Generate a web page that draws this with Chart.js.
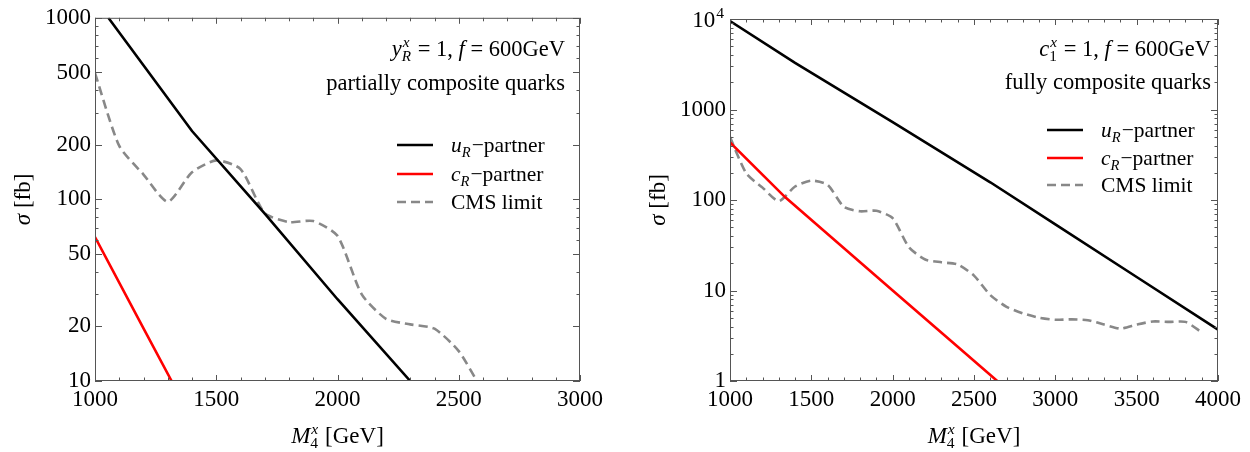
<!DOCTYPE html>
<html>
<head>
<meta charset="utf-8">
<script src="https://cdn.jsdelivr.net/npm/chart.js@4.4.0/dist/chart.umd.min.js"></script>
<style>
  body { margin: 0; background: #fff; }
  .panel { position: absolute; top: 0; width: 625px; height: 452px; }
</style>
</head>
<body>
<div class="panel" style="left:0"><canvas id="left"></canvas></div>
<div class="panel" style="left:625px"><canvas id="right"></canvas></div>
<script>
// CMS limit (same on both panels)
const cmsMass = [1000, 1100, 1200, 1300, 1400, 1500, 1600, 1700, 1800, 1900, 2000, 2100, 2200, 2300, 2400, 2500,
  2600, 2700, 2800, 2900, 3000, 3100, 3200, 3300, 3400, 3500, 3600, 3700, 3800, 3900];
const cmsLimit = [495, 197, 137, 97, 141, 164, 147, 84, 75, 76, 63, 30, 22, 20.5, 19.4, 14.6,
  8.9, 6.6, 5.6, 5.0, 4.75, 4.8, 4.7, 4.2, 3.8, 4.2, 4.55, 4.5, 4.5, 3.45];

// partially composite quarks (left)
const uLeftMass = [1055, 1400, 1700, 2000, 2300];
const uLeftXsec = [1000, 238, 83.5, 28.2, 10];
const cLeftMass = [1000, 1200, 1316];
const cLeftXsec = [62, 19.5, 10];

// fully composite quarks (right)
const uRightMass = [1000, 1400, 2000, 2600, 3000, 3500, 4000];
const uRightXsec = [9500, 3270, 724, 157, 53.7, 14.1, 3.7];
const cRightMass = [1000, 1340, 1600, 2000, 2400, 2643];
const cRightXsec = [433, 107, 42, 10, 2.39, 1];

// tick labels
const leftXTicks = [1000, 1500, 2000, 2500, 3000];
const rightXTicks = [1000, 1500, 2000, 2500, 3000, 3500, 4000];
const leftYTicks = [10, 20, 50, 100, 200, 500, 1000];
const rightYTicks = [1, 10, 100, 1000, 10000];

const FONT = '"Liberation Serif", "Times New Roman", serif';
const FRAME = '#555';
const TICK_SIZE = 23;

function pts(xs, ys) {
  return xs.map((x, i) => ({ x: x, y: ys[i] }));
}

function fontOf(size, it) {
  return (it ? 'italic ' : '') + size + 'px ' + FONT;
}

// width of one piece of rich text (plain run or stacked sub/sup)
function partWidth(ctx, p, size) {
  if (p.t !== undefined) {
    ctx.font = fontOf(size, p.it);
    return ctx.measureText(p.t).width;
  }
  const s = size * 0.68;
  let w = 0;
  if (p.sup) { ctx.font = fontOf(s, p.supIt); w = Math.max(w, ctx.measureText(p.sup).width + 1); }
  if (p.sub) { ctx.font = fontOf(s, p.subIt); w = Math.max(w, ctx.measureText(p.sub).width); }
  return w + 1;
}

function drawRich(ctx, parts, x, y, size, align) {
  const ws = parts.map(p => partWidth(ctx, p, size));
  const total = ws.reduce((a, b) => a + b, 0);
  let cx = align === 'right' ? x - total : align === 'center' ? x - total / 2 : x;
  ctx.textAlign = 'left';
  ctx.textBaseline = 'alphabetic';
  ctx.fillStyle = '#000';
  parts.forEach((p, i) => {
    if (p.t !== undefined) {
      ctx.font = fontOf(size, p.it);
      ctx.fillText(p.t, cx, y);
    } else {
      const s = size * 0.68;
      if (p.sup) { ctx.font = fontOf(s, p.supIt); ctx.fillText(p.sup, cx + 1, y - size * 0.38); }
      if (p.sub) { ctx.font = fontOf(s, p.subIt); ctx.fillText(p.sub, cx, y + size * 0.22); }
    }
    cx += ws[i];
  });
}

const uStyle = { borderColor: '#000', borderWidth: 2.6 };
const cStyle = { borderColor: '#ff0000', borderWidth: 2.6 };
const cmsStyle = { borderColor: '#888', borderWidth: 2.6, borderDash: [9, 5], tension: 0.22 };

const legendRows = [
  { style: uStyle, text: [{ t: 'u', it: true }, { sub: 'R', subIt: true }, { t: '\u2212partner' }] },
  { style: cStyle, text: [{ t: 'c', it: true }, { sub: 'R', subIt: true }, { t: '\u2212partner' }] },
  { style: cmsStyle, text: [{ t: 'CMS limit' }] }
];

function makeChart(cfg) {
  const decor = {
    id: 'decor',
    afterDraw(chart) {
      const ctx = chart.ctx;
      const a = chart.chartArea;
      const xs = chart.scales.x, ys = chart.scales.y;
      ctx.save();
      // frame
      ctx.strokeStyle = FRAME;
      ctx.lineWidth = 1;
      ctx.strokeRect(a.left + 0.5, a.top + 0.5, a.right - a.left - 1, a.bottom - a.top - 1);
      // x ticks, bottom and top, pointing inward
      ctx.beginPath();
      for (let v = cfg.xMin; v <= cfg.xMax; v += 100) {
        const len = cfg.xTicks.includes(v) ? 6 : 3.5;
        const px = Math.round(xs.getPixelForValue(v)) + 0.5;
        ctx.moveTo(px, a.bottom); ctx.lineTo(px, a.bottom - len);
        ctx.moveTo(px, a.top); ctx.lineTo(px, a.top + len);
      }
      // y ticks, left and right
      for (let d = cfg.yMin; d < cfg.yMax; d *= 10) {
        for (let m = 1; m <= 10; m++) {
          const v = d * m;
          if (v > cfg.yMax) break;
          const len = cfg.yTicks.includes(v) ? 7 : 3.5;
          const py = Math.round(ys.getPixelForValue(v)) + 0.5;
          ctx.moveTo(a.left, py); ctx.lineTo(a.left + len, py);
          ctx.moveTo(a.right, py); ctx.lineTo(a.right - len, py);
        }
      }
      ctx.stroke();

      // axis titles
      drawRich(ctx, [{ t: 'M', it: true }, { sup: 'x', supIt: true, sub: '4' }, { t: ' [GeV]' }],
        (a.left + a.right) / 2, 443, 23, 'center');
      ctx.save();
      ctx.translate(cfg.yTitleX, (a.top + a.bottom) / 2);
      ctx.rotate(-Math.PI / 2);
      drawRich(ctx, [{ t: '\u03c3', it: true }, { t: ' [fb]' }], 0, 0, 23, 'center');
      ctx.restore();

      // 10^4 label
      if (cfg.yMax === 10000) {
        drawRich(ctx, [{ t: '10' }, { sup: '4' }], a.left - 5, ys.getPixelForValue(10000) + 8, TICK_SIZE, 'right');
      }

      // annotation
      cfg.note.forEach((line, i) => drawRich(ctx, line, cfg.noteX, cfg.noteY[i], 22.5, 'right'));

      // legend
      legendRows.forEach((row, i) => {
        const y = cfg.legY[i];
        ctx.beginPath();
        ctx.strokeStyle = row.style.borderColor;
        ctx.lineWidth = row.style.borderWidth;
        ctx.setLineDash(row.style.borderDash || []);
        ctx.moveTo(cfg.legX, y); ctx.lineTo(cfg.legX + 36, y);
        ctx.stroke();
        ctx.setLineDash([]);
        drawRich(ctx, row.text, cfg.legX + 54, y + 7, 21.5, 'left');
      });
      ctx.restore();
    }
  };

  return new Chart(document.getElementById(cfg.id), {
    type: 'line',
    data: { datasets: cfg.datasets },
    options: {
      responsive: true,
      maintainAspectRatio: false,
      animation: false,
      layout: { padding: cfg.pad },
      elements: { point: { radius: 0 }, line: { tension: 0 } },
      plugins: { legend: { display: false }, tooltip: { enabled: false } },
      scales: {
        x: {
          type: 'linear', min: cfg.xMin, max: cfg.xMax,
          afterBuildTicks: s => { s.ticks = cfg.xTicks.map(v => ({ value: v })); },
          afterFit: s => { s.height = 71; },
          grid: { display: false, drawTicks: false },
          border: { display: false },
          ticks: { color: '#000', font: { family: FONT, size: TICK_SIZE }, padding: 5, maxRotation: 0, autoSkip: false,
            callback: v => String(v) }
        },
        y: {
          type: 'logarithmic', min: cfg.yMin, max: cfg.yMax,
          afterBuildTicks: s => { s.ticks = cfg.yTicks.map(v => ({ value: v })); },
          afterFit: s => { s.width = cfg.yWidth; },
          grid: { display: false, drawTicks: false },
          border: { display: false },
          ticks: { color: '#000', font: { family: FONT, size: TICK_SIZE }, padding: 4, autoSkip: false,
            callback: v => (v === 10000 ? '' : String(v)) }
        }
      }
    },
    plugins: [decor]
  });
}

makeChart({
  id: 'left', xMin: 1000, xMax: 3000, yMin: 10, yMax: 1000,
  xTicks: leftXTicks, yTicks: leftYTicks, yWidth: 95,
  pad: { left: 0, right: 45, top: 17, bottom: 0 },
  yTitleX: 30,
  datasets: [
    Object.assign({ label: 'uR-partner', data: pts(uLeftMass, uLeftXsec) }, uStyle),
    Object.assign({ label: 'cR-partner', data: pts(cLeftMass, cLeftXsec) }, cStyle),
    Object.assign({ label: 'CMS limit', data: pts(cmsMass, cmsLimit) }, cmsStyle)
  ],
  note: [
    [{ t: 'y', it: true }, { sup: 'x', supIt: true, sub: 'R', subIt: true }, { t: ' = 1, ' }, { t: 'f', it: true }, { t: ' = 600GeV' }],
    [{ t: 'partially composite quarks' }]
  ],
  noteX: 565, noteY: [56, 90],
  legX: 397, legY: [145, 174, 202]
});

makeChart({
  id: 'right', xMin: 1000, xMax: 4000, yMin: 1, yMax: 10000,
  xTicks: rightXTicks, yTicks: rightYTicks, yWidth: 105,
  pad: { left: 0, right: 32, top: 19, bottom: 0 },
  yTitleX: 40,
  datasets: [
    Object.assign({ label: 'uR-partner', data: pts(uRightMass, uRightXsec) }, uStyle),
    Object.assign({ label: 'cR-partner', data: pts(cRightMass, cRightXsec) }, cStyle),
    Object.assign({ label: 'CMS limit', data: pts(cmsMass, cmsLimit) }, cmsStyle)
  ],
  note: [
    [{ t: 'c', it: true }, { sup: 'x', supIt: true, sub: '1' }, { t: ' = 1, ' }, { t: 'f', it: true }, { t: ' = 600GeV' }],
    [{ t: 'fully composite quarks' }]
  ],
  noteX: 586, noteY: [56, 89],
  legX: 422, legY: [130, 158, 185]
});
</script>
</body>
</html>
